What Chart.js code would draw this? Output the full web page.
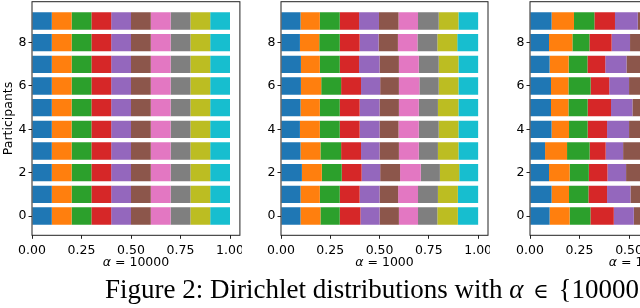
<!DOCTYPE html>
<html><head><meta charset="utf-8">
<script src="https://cdn.jsdelivr.net/npm/chart.js@4"></script>
<style>
html,body{margin:0;padding:0;background:#fff;width:640px;height:308px;overflow:hidden;position:relative}
canvas{position:absolute;top:0}
.lab{position:absolute;font-family:"DejaVu Sans";font-size:12.5px;line-height:14px;white-space:nowrap;transform:translateX(-50%);color:#000}
#cap{position:absolute;left:105px;top:276px;font-family:"Liberation Serif";font-size:27px;line-height:27px;white-space:nowrap;color:#000}
#cap .el{font-family:"DejaVu Serif";font-size:21px;margin:0 3px}
</style></head><body>
<canvas id="c1" width="242" height="308" style="left:0"></canvas>
<canvas id="c2" width="245" height="308" style="left:245px"></canvas>
<canvas id="c3" width="250" height="308" style="left:490px"></canvas>
<div class="lab" style="left:136px;top:255px"><i>α</i> = 10000</div>
<div class="lab" style="left:384.5px;top:255px"><i>α</i> = 1000</div>
<div class="lab" style="left:634px;top:255px"><i>α</i> = 100</div>
<div id="cap">Figure 2: Dirichlet distributions with <i>α</i> <span class="el">∈</span> {10000</div>
<script>
const participants = [0,1,2,3,4,5,6,7,8,9];
const classColors = ['#1f77b4','#ff7f0e','#2ca02c','#d62728','#9467bd','#8c564b','#e377c2','#7f7f7f','#bcbd22','#17becf'];
const xTicks = [0, 0.25, 0.5, 0.75, 1.0];
const yTicks = [0, 2, 4, 6, 8];

// rows = participants 0..9, columns = classes 0..9
const shares10000 = [
  [0.100,0.100,0.100,0.100,0.100,0.100,0.100,0.100,0.100,0.100],
  [0.100,0.100,0.100,0.100,0.100,0.100,0.100,0.100,0.100,0.100],
  [0.100,0.100,0.100,0.100,0.100,0.100,0.100,0.100,0.100,0.100],
  [0.100,0.100,0.100,0.100,0.100,0.100,0.100,0.100,0.100,0.100],
  [0.100,0.100,0.100,0.100,0.100,0.100,0.100,0.100,0.100,0.100],
  [0.100,0.100,0.100,0.100,0.100,0.100,0.100,0.100,0.100,0.100],
  [0.100,0.100,0.100,0.100,0.100,0.100,0.100,0.100,0.100,0.100],
  [0.100,0.100,0.100,0.100,0.100,0.100,0.100,0.100,0.100,0.100],
  [0.100,0.100,0.100,0.100,0.100,0.100,0.100,0.100,0.100,0.100],
  [0.100,0.100,0.100,0.100,0.100,0.100,0.100,0.100,0.100,0.100]
];
const shares1000 = [
  [0.099,0.101,0.098,0.105,0.097,0.098,0.097,0.098,0.104,0.103],
  [0.099,0.098,0.101,0.101,0.101,0.094,0.101,0.101,0.101,0.103],
  [0.106,0.101,0.101,0.101,0.094,0.101,0.105,0.097,0.098,0.096],
  [0.099,0.101,0.105,0.101,0.094,0.098,0.101,0.097,0.104,0.100],
  [0.096,0.101,0.101,0.101,0.101,0.096,0.103,0.101,0.100,0.100],
  [0.099,0.098,0.101,0.101,0.101,0.098,0.101,0.097,0.104,0.100],
  [0.101,0.103,0.101,0.101,0.097,0.095,0.104,0.098,0.100,0.100],
  [0.101,0.096,0.101,0.098,0.104,0.098,0.101,0.101,0.100,0.100],
  [0.096,0.098,0.104,0.101,0.096,0.098,0.099,0.101,0.101,0.106],
  [0.099,0.098,0.101,0.098,0.101,0.099,0.099,0.105,0.100,0.100]
];
const shares100 = [
  [0.099,0.101,0.105,0.118,0.101,0.094,0.088,0.100,0.097,0.097],
  [0.109,0.088,0.098,0.094,0.118,0.104,0.096,0.089,0.102,0.102],
  [0.096,0.104,0.097,0.094,0.094,0.098,0.111,0.100,0.104,0.102],
  [0.076,0.111,0.114,0.081,0.088,0.113,0.097,0.108,0.106,0.106],
  [0.109,0.088,0.094,0.098,0.111,0.100,0.093,0.107,0.096,0.104],
  [0.106,0.088,0.097,0.118,0.108,0.094,0.100,0.091,0.103,0.095],
  [0.106,0.088,0.112,0.094,0.100,0.097,0.105,0.092,0.108,0.098],
  [0.099,0.096,0.095,0.090,0.107,0.110,0.094,0.103,0.100,0.106],
  [0.096,0.118,0.086,0.112,0.093,0.092,0.104,0.097,0.106,0.096],
  [0.109,0.113,0.103,0.104,0.115,0.092,0.085,0.098,0.090,0.091]
];

const FONT = {family: 'DejaVu Sans', size: 12.5};
const AXIS = '#222';

const framePlugin = {
  id: 'frame',
  afterDraw(chart) {
    const {ctx, chartArea: a} = chart;
    ctx.save();
    ctx.strokeStyle = AXIS;
    ctx.lineWidth = 1;
    ctx.strokeRect(a.left, a.top, a.right - a.left, a.bottom - a.top);
    ctx.restore();
  }
};

function makeChart(id, rows, yAxisWidth, showYTitle, rightPad) {
  const datasets = classColors.map((c, k) => ({
    label: 'class ' + k,
    data: rows.map((r, p) => ({x: r[k], y: participants[p]})),
    backgroundColor: c,
    borderWidth: 0,
    categoryPercentage: 1,
    barPercentage: 0.8
  }));
  return new Chart(document.getElementById(id), {
    type: 'bar',
    data: {datasets},
    options: {
      indexAxis: 'y',
      responsive: false,
      animation: false,
      devicePixelRatio: 1,
      layout: {padding: {top: 1.7, right: rightPad, bottom: 32.7, left: 0}},
      plugins: {legend: {display: false}, tooltip: {enabled: false}},
      scales: {
        x: {
          type: 'linear', stacked: true, min: 0, max: 1.05, offset: false,
          afterBuildTicks: s => { s.ticks = xTicks.map(v => ({value: v})); },
          afterFit: s => { s.height = 40; s.paddingLeft = 0; s.paddingRight = 0; },
          ticks: {callback: v => Number(v).toFixed(2), font: FONT, color: '#000', padding: 4.5, maxRotation: 0, autoSkip: false},
          grid: {display: true, offset: false, drawOnChartArea: false, drawTicks: true, tickLength: 3.5, color: AXIS, lineWidth: 1},
          border: {display: false}
        },
        y: {
          type: 'linear', stacked: true, min: -0.89, max: 9.89, offset: false,
          afterBuildTicks: s => { s.ticks = yTicks.map(v => ({value: v})); },
          afterFit: s => { s.width = yAxisWidth; s.paddingTop = 0; s.paddingBottom = 0; },
          ticks: {callback: v => String(v), font: FONT, color: '#000', padding: 2, autoSkip: false},
          grid: {display: true, offset: false, drawOnChartArea: false, drawTicks: true, tickLength: 3.5, color: AXIS, lineWidth: 1},
          border: {display: false},
          title: {display: showYTitle, text: 'Participants', font: FONT, color: '#000', padding: {top: 1, bottom: 0}}
        }
      }
    },
    plugins: [framePlugin]
  });
}

makeChart('c1', shares10000, 32, true, 2.1);
makeChart('c2', shares1000, 36, false, 2);
makeChart('c3', shares100, 40, false, 2);
</script>
</body></html>
